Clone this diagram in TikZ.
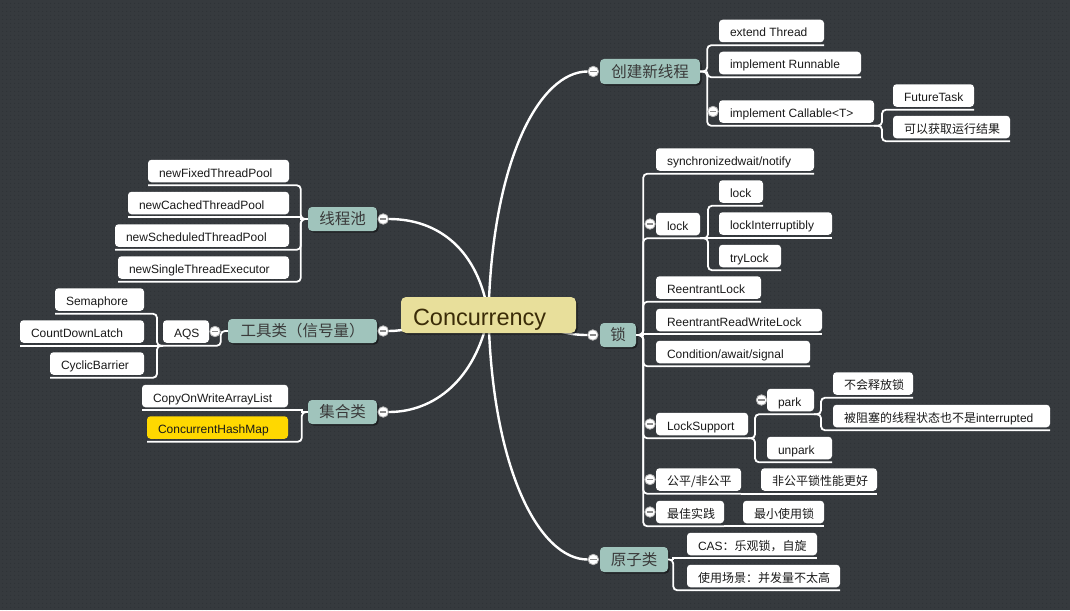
\documentclass[tikz,border=0pt]{standalone}
\usepackage{fontspec}
\setmainfont{Liberation Sans}
\newfontfamily\cjk{Noto Sans CJK SC}
\usetikzlibrary{backgrounds,shadows,patterns.meta}
\definecolor{bgc}{HTML}{363A3E}
\definecolor{dotc}{HTML}{2B2E32}
\definecolor{topicfill}{HTML}{A0C4BC}
\definecolor{topictxt}{HTML}{3A3A3A}
\definecolor{cenfill}{HTML}{E8DF9B}
\definecolor{centxt}{HTML}{3B2C08}
\definecolor{subtxt}{HTML}{1A1A1A}
\definecolor{hl}{HTML}{FFD800}
\definecolor{ccring}{HTML}{B8B8B8}
\definecolor{ccminus}{HTML}{8A8A8A}
\newcommand\mkbx[2]{\makebox[#1pt][l]{#2}}
\begin{document}
\begin{tikzpicture}[x=1pt,y=-1pt,
  sub/.style={fill=white, rounded corners=3.5pt, anchor=west, minimum height=22.5pt,
    inner xsep=11pt, inner ysep=2pt, outer ysep=3pt, outer xsep=0pt,
    text height=13pt, text depth=1pt,
    font=\fontsize{12}{14}\selectfont, text=subtxt},
  topic/.style={fill=topicfill, rounded corners=4pt, inner sep=0pt, text=topictxt,
    font=\cjk\fontsize{15.5}{18}\selectfont,
    drop shadow={shadow xshift=1.5pt, shadow yshift=-1.5pt, opacity=0.45, fill=black}},
  center/.style={fill=cenfill, rounded corners=5pt, minimum width=175pt, minimum height=36pt,
    inner xsep=12pt, inner ysep=0pt, text height=21pt, text depth=0pt,
    text=centxt, font=\fontsize{23.5}{28}\selectfont,
    drop shadow={shadow xshift=1.5pt, shadow yshift=-1.5pt, opacity=0.45, fill=black}},
  cc/.style={circle, fill=white, draw=ccring, line width=0.8pt, minimum size=10.5pt, inner sep=0pt,
    path picture={\draw[ccminus, line width=1.3pt]
      ([xshift=-3.2pt]path picture bounding box.center) -- ([xshift=3.2pt]path picture bounding box.center);}},
  br/.style={draw=white, line width=1.8pt, rounded corners=4pt},
  bigc/.style={draw=white, line width=2.4pt},
]
\useasboundingbox (0,0) rectangle (1070,610);

% central node
\node[center] (cen) at (488.5,315) {\mkbx{151}{Concurrency}};

% topics
\node[topic, minimum width=100pt, minimum height=25pt] (t1) at (650,71.5) {创建新线程};
\node[topic, minimum width=36pt, minimum height=24pt] (t2) at (618,335) {锁};
\node[topic, minimum width=68pt, minimum height=25pt] (t3) at (634,559.5) {原子类};
\node[topic, minimum width=69pt, minimum height=24pt] (t4) at (342.5,219) {线程池};
\node[topic, minimum width=149pt, minimum height=24pt] (t5) at (302.5,331) {工具类（信号量）};
\node[topic, minimum width=69pt, minimum height=24pt] (t6) at (342.5,412) {集合类};

% right: 创建新线程
\node[sub] (ext) at (719,31) {\mkbx{83}{extend Thread}};
\node[sub] (run) at (719,63) {\mkbx{120}{implement Runnable}};
\node[sub] (call) at (719,111.5) {\mkbx{133}{implement Callable<T>}};
\node[sub] (fut) at (893,95.5) {\mkbx{59}{FutureTask}};
\node[sub] (res) at (893,127) {\mkbx{95}{\cjk 可以获取运行结果}};

% right: 锁
\node[sub] (sync) at (656,159.5) {\mkbx{136}{synchronizedwait/notify}};
\node[sub] (lockn) at (656,224) {\mkbx{22}{lock}};
\node[sub] (lk1) at (719,191.5) {\mkbx{22}{lock}};
\node[sub] (lk2) at (719,223.5) {\mkbx{91}{lockInterruptibly}};
\node[sub] (lk3) at (719,256) {\mkbx{40}{tryLock}};
\node[sub] (rl) at (656,287.5) {\mkbx{83}{ReentrantLock}};
\node[sub] (rrwl) at (656,320) {\mkbx{144}{ReentrantReadWriteLock}};
\node[sub] (cond) at (656,352) {\mkbx{132}{Condition/await/signal}};
\node[sub] (ls) at (656,424) {\mkbx{70}{LockSupport}};
\node[sub] (park) at (767,400) {\mkbx{25}{park}};
\node[sub] (nr) at (833,383.5) {\mkbx{58}{\cjk 不会释放锁}};
\node[sub] (blk) at (833,416) {\mkbx{195}{{\cjk 被阻塞的线程状态也不是}interrupted}};
\node[sub] (unpark) at (767,448) {\mkbx{43}{unpark}};
\node[sub] (fair) at (656,479.5) {\mkbx{63}{\cjk 公平/非公平}};
\node[sub] (nf) at (761,479.5) {\mkbx{94}{\cjk 非公平锁性能更好}};
\node[sub] (best) at (656,512) {\mkbx{46}{\cjk 最佳实践}};
\node[sub] (min) at (743,512) {\mkbx{59}{\cjk 最小使用锁}};

% right: 原子类
\node[sub] (cas) at (687,544) {\mkbx{108}{CAS{\cjk ：乐观锁，自旋}}};
\node[sub] (use) at (687,576) {\mkbx{131}{\cjk 使用场景：并发量不太高}};

% left: 线程池
\node[sub] (fix) at (148,171) {\mkbx{119}{newFixedThreadPool}};
\node[sub] (cach) at (128,203) {\mkbx{139}{newCachedThreadPool}};
\node[sub] (sch) at (115,235.5) {\mkbx{152}{newScheduledThreadPool}};
\node[sub] (sgl) at (118,267.5) {\mkbx{149}{newSingleThreadExecutor}};

% left: 工具类
\node[sub] (aqs) at (163,331.5) {\mkbx{24}{AQS}};
\node[sub] (sem) at (55,299.5) {\mkbx{67}{Semaphore}};
\node[sub] (cdl) at (20,331.5) {\mkbx{102}{CountDownLatch}};
\node[sub] (cyc) at (50,363.5) {\mkbx{72}{CyclicBarrier}};

% left: 集合类
\node[sub] (cow) at (142,396) {\mkbx{124}{CopyOnWriteArrayList}};
\node[sub, fill=hl] (chm) at (147,427.5) {\mkbx{119}{ConcurrentHashMap}};

% bracket connectors, right
\foreach \n in {ext,run,call}
  \draw[br] (t1.east) -- ++(7,0) |- (\n.south west) -- (\n.south east);
\foreach \n in {fut,res}
  \draw[br] (call.south east) -- ++(8,0) |- (\n.south west) -- (\n.south east);
\foreach \n in {sync,lockn,rl,cond,ls,fair,best}
  \draw[br] (t2.east) -- ++(7,0) |- (\n.south west) -- (\n.south east);
\draw[br, sharp corners] (t2.east) -- ++(7,0) |- (rrwl.south west) -- (rrwl.south east);
\foreach \n in {lk1,lk3}
  \draw[br] (lockn.south east) -- ++(8,0) |- (\n.south west) -- (\n.south east);
\draw[br, sharp corners] (lockn.south east) -- ++(8,0) |- (lk2.south west) -- (lk2.south east);
\foreach \n in {park,unpark}
  \draw[br] (ls.south east) -- ++(7,0) |- (\n.south west) -- (\n.south east);
\foreach \n in {nr,blk}
  \draw[br] (park.south east) -- ++(7,0) |- (\n.south west) -- (\n.south east);
\draw[br] (fair.south east) -- (nf.south east);
\draw[br] (best.south east) -- (min.south east);
\draw[br, sharp corners] (t3.east) -- ++(5,0) |- (cas.south west) -- (cas.south east);
\draw[br] (t3.east) -- ++(5,0) |- (use.south west) -- (use.south east);

% bracket connectors, left
\foreach \n in {fix,sch,sgl}
  \draw[br] (t4.west) -- ++(-7,0) |- (\n.south east) -- (\n.south west);
\draw[br, sharp corners] (t4.west) -- ++(-7,0) |- (cach.south east) -- (cach.south west);
\draw[br] (t5.west) -- ++(-7,0) |- (aqs.south east) -- (aqs.south west);
\foreach \n in {sem,cyc}
  \draw[br] (aqs.south west) -- ++(-6,0) |- (\n.south east) -- (\n.south west);
\draw[br] (aqs.south west) -- (cdl.south west);
\draw[br, sharp corners] (t6.west) -- ++(-6,0) |- (cow.south east) -- (cow.south west);
\draw[br] (t6.west) -- ++(-6,0) |- (chm.south east) -- (chm.south west);

% collapse circles
\node[cc] (k1) at ([xshift=-6.5pt]t1.west) {};
\node[cc] (k2) at ([xshift=-7pt]t2.west) {};
\node[cc] (k3) at ([xshift=-6.5pt]t3.west) {};
\node[cc] (k4) at ([xshift=6pt]t4.east) {};
\node[cc] (k5) at ([xshift=6pt]t5.east) {};
\node[cc] (k6) at ([xshift=6pt]t6.east) {};
\node[cc] (kcall) at ([xshift=-6pt]call.west) {};
\node[cc] (klock) at ([xshift=-6pt]lockn.west) {};
\node[cc] (kls) at ([xshift=-6pt]ls.west) {};
\node[cc] (kpark) at ([xshift=-5.5pt]park.west) {};
\node[cc] (kfair) at ([xshift=-6pt]fair.west) {};
\node[cc] (kbest) at ([xshift=-6pt]best.west) {};
\node[cc] (kaqs) at ([xshift=6pt]aqs.east) {};

% background and main curves
\begin{scope}[on background layer]
  \fill[bgc] (0,0) rectangle (1070,610);
  \fill[pattern={Dots[distance=4pt,radius=0.55pt]}, pattern color=dotc] (0,0) rectangle (1070,610);
  \draw[bigc] (cen.center) .. controls +(3.5,-155) and +(-48,0) .. (k1.west);
  \draw[bigc] (cen.center) .. controls +(50,0) and +(-40,0) .. (k2.west);
  \draw[bigc] (cen.center) .. controls +(3.5,155) and +(-48,0) .. (k3.west);
  \draw[bigc] (cen.center) .. controls +(-10,-65) and +(50,0) .. (k4.east);
  \draw[bigc] (cen.center) .. controls +(-50,0) and +(30,0) .. (k5.east);
  \draw[bigc] (cen.center) .. controls +(-13,65) and +(45,0) .. (k6.east);
\end{scope}
\end{tikzpicture}
\end{document}
